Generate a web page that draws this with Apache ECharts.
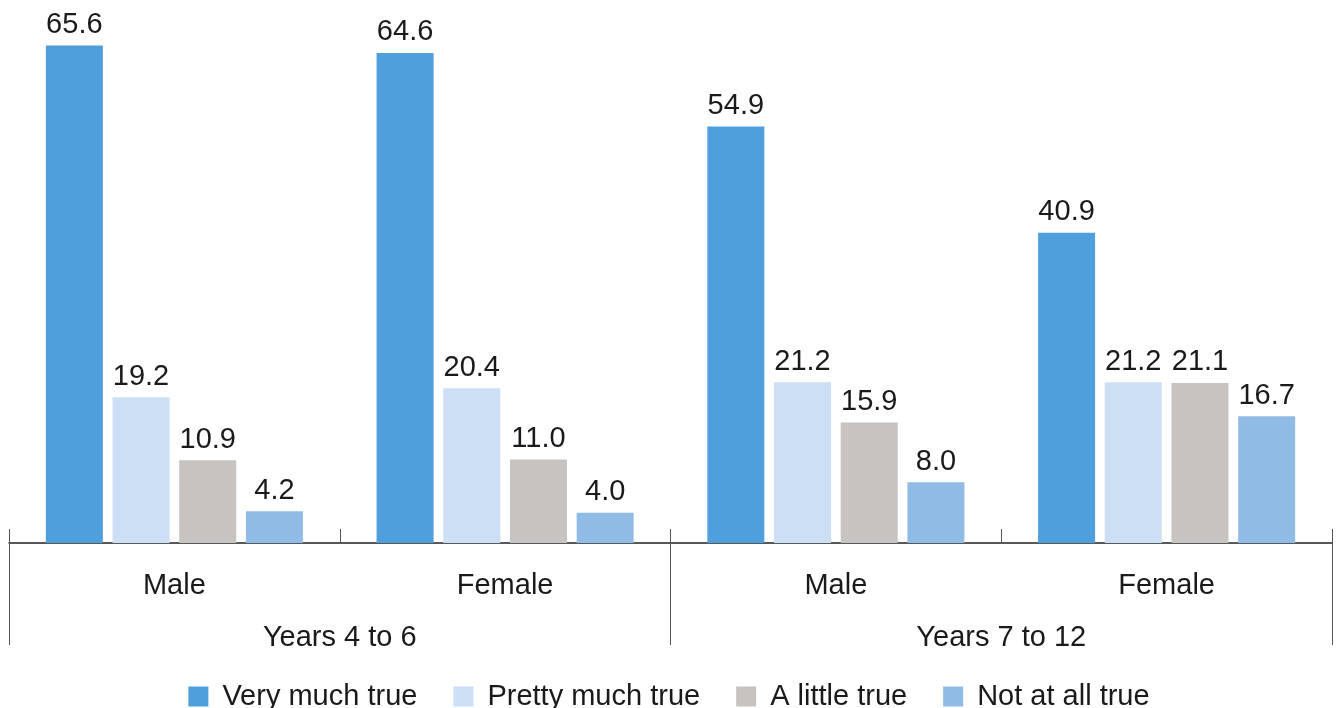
<!DOCTYPE html>
<html>
<head>
<meta charset="utf-8">
<script src="https://cdn.jsdelivr.net/npm/echarts@6/dist/echarts.min.js"></script>
<style>
html,body{margin:0;padding:0;background:#fff;}
#chart{width:1338px;height:708px;}
</style>
</head>
<body>
<div id="chart"></div>
<script>
const categories = ["Male", "Female", "Male", "Female"];
const groups = ["Years 4 to 6", "Years 7 to 12"];
const seriesNames = ["Very much true", "Pretty much true", "A little true", "Not at all true"];
const veryMuchTrue = [65.6, 64.6, 54.9, 40.9];
const prettyMuchTrue = [19.2, 20.4, 21.2, 21.2];
const aLittleTrue = [10.9, 11.0, 15.9, 21.1];
const notAtAllTrue = [4.2, 4.0, 8.0, 16.7];
const colors = ["#4e9fdc", "#cddff4", "#c7c3c0", "#8fbbe5"];

const FONT = "'Liberation Sans', Arial, Helvetica, sans-serif";
const TXT = "#1a1a1a";
const values = [veryMuchTrue, prettyMuchTrue, aLittleTrue, notAtAllTrue];

const chart = echarts.init(document.getElementById('chart'), null, {renderer: 'canvas'});
chart.setOption({
  animation: false,
  textStyle: {fontFamily: FONT},
  grid: {left: 9, right: 6, top: 12, bottom: 165, containLabel: false},
  legend: {
    top: 677,
    left: 'center',
    itemWidth: 20,
    itemHeight: 20,
    itemGap: 36,
    icon: 'rect',
    textStyle: {fontSize: 29, color: TXT, fontFamily: FONT, padding: [0, 0, 0, 9]},
    data: seriesNames
  },
  xAxis: [
    {
      type: 'category',
      data: categories,
      position: 'bottom',
      axisLine: {show: true, lineStyle: {color: '#222', width: 1.5}},
      axisTick: {show: true, inside: true, length: 14, interval: 0, lineStyle: {color: '#555'}},
      axisLabel: {fontSize: 29, color: TXT, margin: 28, fontFamily: FONT}
    },
    {
      type: 'category',
      data: groups,
      position: 'bottom',
      axisLine: {show: false},
      axisTick: {show: true, inside: false, length: 102, interval: 0, lineStyle: {color: '#555'}},
      axisLabel: {fontSize: 29, color: TXT, margin: 80, fontFamily: FONT}
    }
  ],
  yAxis: {type: 'value', min: 0, max: 70, show: false},
  series: seriesNames.map((name, i) => ({
    name: name,
    type: 'bar',
    xAxisIndex: 0,
    data: values[i],
    barWidth: 57,
    barGap: '17%',
    itemStyle: {color: colors[i]},
    label: {
      show: true,
      position: 'top',
      distance: 6,
      fontSize: 29,
      color: TXT,
      fontFamily: FONT,
      formatter: p => p.value.toFixed(1)
    }
  }))
});
</script>
</body>
</html>
